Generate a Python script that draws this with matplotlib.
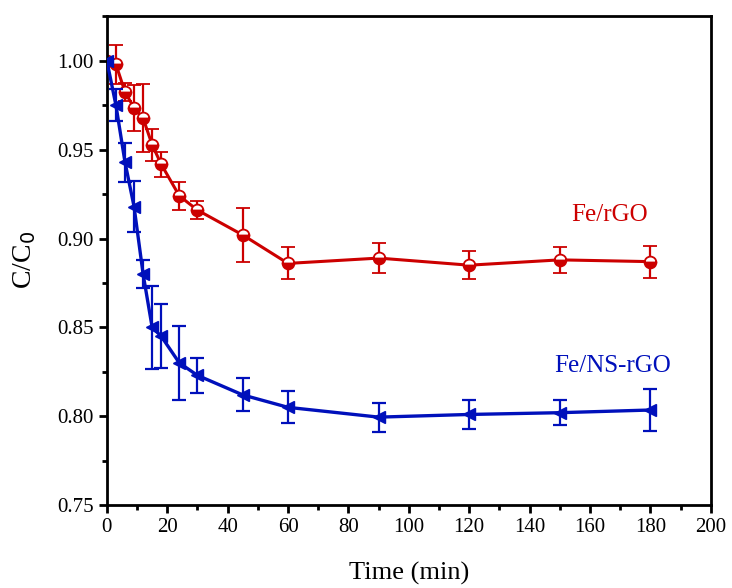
import matplotlib
matplotlib.use("Agg")
import matplotlib.pyplot as plt
from matplotlib.ticker import MultipleLocator

plt.rcParams['font.family'] = ['Liberation Serif', 'DejaVu Serif']

# sampling times (min)
time = [0, 3, 6, 9, 12, 15, 18, 24, 30, 45, 60, 90, 120, 150, 180]

# Fe/rGO
c_rgo = [1.000, 0.998, 0.9825, 0.9735, 0.9677, 0.9527, 0.9418, 0.924, 0.916,
         0.902, 0.886, 0.889, 0.885, 0.888, 0.887]
err_rgo = [0.0, 0.011, 0.005, 0.013, 0.019, 0.009, 0.007, 0.008, 0.005,
           0.015, 0.009, 0.0085, 0.008, 0.0075, 0.009]

# Fe/NS-rGO
c_ns = [1.000, 0.975, 0.943, 0.918, 0.880, 0.850, 0.845, 0.830, 0.823,
        0.812, 0.805, 0.7995, 0.801, 0.802, 0.8035]
err_ns = [0.0, 0.009, 0.011, 0.0145, 0.0078, 0.0235, 0.018, 0.021, 0.0097,
          0.0093, 0.009, 0.0082, 0.008, 0.007, 0.012]

red = '#cc0000'
blue = '#0010bb'

fig = plt.figure(figsize=(7.32, 5.88), dpi=100)
ax = fig.add_axes([0.146, 0.141, 0.825, 0.832])

ax.errorbar(time, c_rgo, yerr=err_rgo, color=red, lw=2.2, marker='o', ms=8.5,
            fillstyle='bottom', markerfacecolor=red, markerfacecoloralt='white',
            markeredgecolor=red, mew=1.3, capsize=5, capthick=1.6,
            elinewidth=1.6, zorder=2)
ax.errorbar(time, c_ns, yerr=err_ns, color=blue, lw=2.4, marker='<', ms=9,
            markerfacecolor=blue, markeredgecolor=blue, capsize=5,
            capthick=1.6, elinewidth=1.6, zorder=3)

# series labels placed next to the curves
ax.text(166.6, 0.9135, 'Fe/rGO', color=red, fontsize=18, ha='center', va='center')
ax.text(167.4, 0.828, 'Fe/NS-rGO', color=blue, fontsize=18, ha='center', va='center')

ax.set_xlim(0, 200)
ax.set_ylim(0.75, 1.0253)
ax.xaxis.set_major_locator(MultipleLocator(20))
ax.xaxis.set_minor_locator(MultipleLocator(10))
ax.yaxis.set_major_locator(MultipleLocator(0.05))
ax.yaxis.set_minor_locator(MultipleLocator(0.025))
ax.yaxis.set_major_formatter(plt.FormatStrFormatter('%.2f'))

ax.tick_params(which='major', direction='out', length=6, width=2, labelsize=15)
ax.tick_params(which='minor', direction='out', length=3.5, width=2)
for s in ax.spines.values():
    s.set_linewidth(2)

ax.set_xlabel('Time (min)', fontsize=19, labelpad=18)
ax.set_ylabel('C/C$_0$', fontsize=20, labelpad=14)

fig.savefig('out.png', dpi=100)
